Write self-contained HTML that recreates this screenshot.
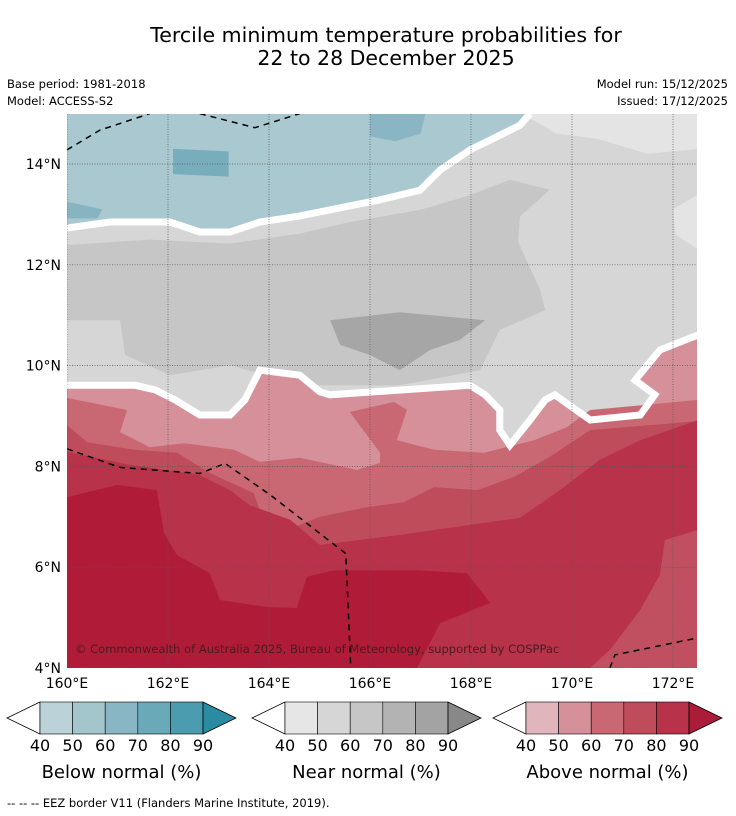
<!DOCTYPE html>
<html><head><meta charset="utf-8"><style>
body{margin:0;background:#fff;font-family:"DejaVu Sans",sans-serif;}
svg{display:block}
</style></head><body>
<svg id="s" width="736" height="816" xmlns="http://www.w3.org/2000/svg" font-family="DejaVu Sans, sans-serif">
<text x="386" y="42" font-size="20.5" text-anchor="middle">Tercile minimum temperature probabilities for</text>
<text x="386" y="65" font-size="20.5" text-anchor="middle">22 to 28 December 2025</text>
<text x="7" y="88" font-size="11.5">Base period: 1981-2018</text>
<text x="7" y="105" font-size="11.5">Model: ACCESS-S2</text>
<text x="728" y="88" font-size="11.5" text-anchor="end">Model run: 15/12/2025</text>
<text x="728" y="105" font-size="11.5" text-anchor="end">Issued: 17/12/2025</text>
<defs><clipPath id="mc"><rect x="67" y="114" width="630" height="554"/></clipPath></defs>
<g id="map" clip-path="url(#mc)"></g>
<g id="axes"></g>
<g id="cb"></g>
<text x="7" y="807" font-size="11.5">--  --  -- EEZ border V11 (Flanders Marine Institute, 2019).</text>
</svg>
<script>
const lonTicks=[160,162,164,166,168,170,172];
const latTicks=[4,6,8,10,12,14];
const cbLabels=[40,50,60,70,80,90];
const belowColors=["#bad2d8","#a3c5cc","#88b7c3","#6aa9b8","#4a9cae","#2a8ba3"];
const nearColors=["#e6e6e6","#d6d6d6","#c6c6c6","#b3b3b3","#a3a3a3","#888888"];
const aboveColors=["#e0b5bb","#d5909a","#c96873","#bf4c5a","#b8334a","#ab1c3a"];
const blueRegion=[[160,15],[160,12.73],[160.85,12.85],[162.04,12.85],[162.63,12.65],[163.23,12.65],[163.82,12.85],[164.61,12.97],[165.41,13.13],[166.2,13.29],[166.99,13.48],[167.39,13.88],[167.98,14.28],[168.57,14.57],[168.97,14.77],[169.17,15]];
const bluePatch1=[[166.0,15],[166.0,14.55],[166.5,14.45],[167.0,14.6],[167.1,15]];
const bluePatch2=[[162.1,14.3],[163.2,14.25],[163.2,13.75],[162.1,13.8]];
const bluePatch3=[[160,13.25],[160.7,13.1],[160.6,12.92],[160,12.92]];
const nearLight=[[169.0,15],[172.5,15],[172.5,14.3],[171.5,14.2],[170.5,14.5],[169.7,14.6]];
const nearLight2=[[172.5,13.4],[172.0,13.1],[172.05,12.6],[172.5,12.3]];
const nearMid=[[160,12.39],[161.64,12.5],[163.23,12.42],[164.61,12.62],[165.6,12.85],[166.99,13.09],[167.98,13.38],[168.77,13.69],[169.56,13.49],[168.97,12.96],[168.93,12.46],[169.37,11.5],[169.47,11.1],[168.57,10.71],[168.18,9.91],[166.59,9.61],[164.61,9.61],[163.23,10.01],[162.04,9.81],[161.15,10.21],[161.05,10.9],[160,10.9]];
const nearDark=[[165.21,10.9],[166.59,11.06],[168.28,10.9],[167.78,10.51],[167.19,10.31],[166.59,9.91],[166.0,10.21],[165.41,10.41]];
const aboveBase=[[160,9.61],[161.35,9.61],[161.74,9.52],[162.14,9.32],[162.63,9.02],[163.23,9.02],[163.52,9.32],[163.82,9.91],[164.61,9.81],[165.01,9.48],[165.21,9.42],[167.98,9.61],[168.28,9.42],[168.57,9.12],[168.57,8.72],[168.77,8.42],[169.17,8.92],[169.47,9.32],[169.66,9.42],[170.36,8.92],[171.35,9.02],[171.64,9.42],[171.25,9.71],[171.74,10.31],[172.5,10.61],[172.5,4],[160,4]];
const above60=[[160,9.36],[161.19,9.12],[161.05,8.68],[161.64,8.38],[162.32,8.46],[163.31,8.33],[163.82,8.09],[164.61,8.17],[165.74,7.93],[166.2,8.07],[166.2,8.27],[165.6,9.08],[166.48,9.28],[166.73,9.12],[166.53,8.52],[167.27,8.33],[168.26,8.27],[169.25,8.52],[169.9,8.78],[170.36,9.12],[172.5,9.32],[172.5,4],[160,4]];
const above70=[[160,8.82],[160.4,8.48],[161.33,8.33],[162.18,8.27],[162.83,7.87],[163.7,7.47],[163.82,7.13],[164.5,6.8],[165.01,7.0],[165.94,7.19],[166.67,7.29],[167.27,7.59],[168.12,7.53],[168.85,7.79],[169.56,8.19],[170.36,8.72],[172.5,8.9],[172.5,4],[160,4]];
const above80=[[160,8.29],[161.25,8.03],[162.63,7.83],[163.23,7.53],[163.62,7.23],[164.42,6.94],[165.01,6.44],[166.59,6.64],[167.98,6.84],[168.97,6.98],[169.76,7.53],[170.55,8.13],[171.35,8.52],[172.5,8.92],[172.5,4],[160,4]];
const above70b=[[172.5,6.74],[171.84,6.54],[171.74,5.85],[171.35,5.15],[170.75,4.36],[170.36,4],[172.5,4]];
const above90=[[160,7.39],[160.99,7.63],[161.78,7.53],[161.92,6.68],[162.18,6.24],[162.83,5.88],[163.03,5.35],[163.96,5.21],[164.55,5.19],[164.75,5.81],[165.29,5.94],[166.93,5.94],[167.92,5.88],[168.38,5.29],[167.39,4.89],[166.93,4],[160,4]];
const eez1=[[160,8.35],[161.05,7.98],[162.63,7.86],[163.13,8.06],[164.03,7.43],[165.52,6.27],[165.62,4]];
const eez2=[[160,14.28],[160.65,14.67],[161.64,15]];
const eez3=[[162.63,15],[163.72,14.72],[164.61,15]];
const eez4=[[170.75,4],[170.85,4.26],[172.5,4.6]];
const X=lon=>67+(lon-160)*50.5;
const Y=lat=>668-(lat-4)*50.4;
const NS="http://www.w3.org/2000/svg";
const map=document.getElementById('map'),axes=document.getElementById('axes'),cb=document.getElementById('cb');
function mk(tag,attrs,parent){const e=document.createElementNS(NS,tag);for(const k in attrs)e.setAttribute(k,attrs[k]);parent.appendChild(e);return e;}
function pts(a){return a.map(p=>X(p[0]).toFixed(1)+','+Y(p[1]).toFixed(1)).join(' ');}
function region(a,fill,name){const e=mk('polygon',{points:pts(a),fill:fill},map);

return e;}
function line(a,stroke,w,dash,name,parent){const e=mk('polyline',{points:pts(a),fill:'none',stroke:stroke,'stroke-width':w,'stroke-dasharray':dash||'none','stroke-linejoin':'miter'},parent||map);

return e;}
const bg=mk('rect',{x:67,y:114,width:630,height:554,fill:"#d6d6d6"},map);


region(nearLight,"#e4e4e4","near-normal-40-region");
region(nearLight2,"#e4e4e4","near-normal-40-region-east");
region(nearMid,"#c6c6c6","near-normal-60-region");
region(nearDark,"#a6a6a6","near-normal-70-region");
region(blueRegion,"#a9c8cf","below-normal-50-region");
region(bluePatch1,"#8ab6c3","below-normal-60-patch");
region(bluePatch2,"#78adbc","below-normal-70-patch");
region(bluePatch3,"#86b4c0","below-normal-60-patch-west");
region(aboveBase,"#d5909a","above-normal-50-region");
region(above60,"#c96873","above-normal-60-region");
region(above70,"#bf4c5a","above-normal-70-region");
region(above80,"#b8334a","above-normal-80-region");
region(above70b,"#c0505f","above-normal-70-region-southeast");
region(above90,"#b01c38","above-normal-90-region");
line(blueRegion.slice(1),"#fff",7,null,"below-normal-boundary");
line(aboveBase.slice(0,aboveBase.length-2),"#fff",7,null,"above-normal-boundary");
[eez1,eez2,eez3,eez4].forEach((a,i)=>{line(a,"#000",1.5,"6,5","eez-border-"+(i+1));});
lonTicks.forEach(v=>{const g=mk('line',{x1:X(v),x2:X(v),y1:114,y2:668,stroke:"#555","stroke-width":0.7,"stroke-dasharray":"1,1.5"},map);


const t=mk('text',{x:X(v),y:688,'font-size':14,'text-anchor':'middle'},axes);t.textContent=v+'°E';

});
latTicks.forEach(v=>{const g=mk('line',{x1:67,x2:697,y1:Y(v),y2:Y(v),stroke:"#555","stroke-width":0.7,"stroke-dasharray":"1,1.5"},map);


const t=mk('text',{x:61,y:Y(v)+5,'font-size':14,'text-anchor':'end'},axes);t.textContent=v+'°N';

});
const cp=mk('text',{x:75,y:653,'font-size':11.5,fill:"#4a1a22"},map);cp.textContent="© Commonwealth of Australia 2025, Bureau of Meteorology, supported by COSPPac";


function colorbar(x0,colors,title,name){const bw=32.6,y0=702,h=32,tw=33;
const g=mk('g',{},cb);


const lt=mk('polygon',{points:`${x0},${y0+h/2} ${x0+tw},${y0} ${x0+tw},${y0+h}`,fill:"#fff",stroke:"#000","stroke-width":0.8},g);


const bx=x0+tw;
colors.slice(0,5).forEach((c,i)=>{const r=mk('rect',{x:bx+i*bw,y:y0,width:bw,height:h,fill:c,stroke:"#000","stroke-width":0.6},g);

});
const ex=bx+5*bw;
const rt=mk('polygon',{points:`${ex},${y0} ${ex+tw},${y0+h/2} ${ex},${y0+h}`,fill:colors[5],stroke:"#000","stroke-width":0.8},g);


cbLabels.forEach((v,i)=>{const t=mk('text',{x:bx+i*bw,y:751,'font-size':16,'text-anchor':'middle'},g);t.textContent=v;

});
const tt=mk('text',{x:bx+2.5*bw,y:778,'font-size':18,'text-anchor':'middle'},g);tt.textContent=title;

}
colorbar(7,belowColors,"Below normal (%)","below-normal-colorbar");
colorbar(252,nearColors,"Near normal (%)","near-normal-colorbar");
colorbar(493,aboveColors,"Above normal (%)","above-normal-colorbar");
</script>
</body></html>
